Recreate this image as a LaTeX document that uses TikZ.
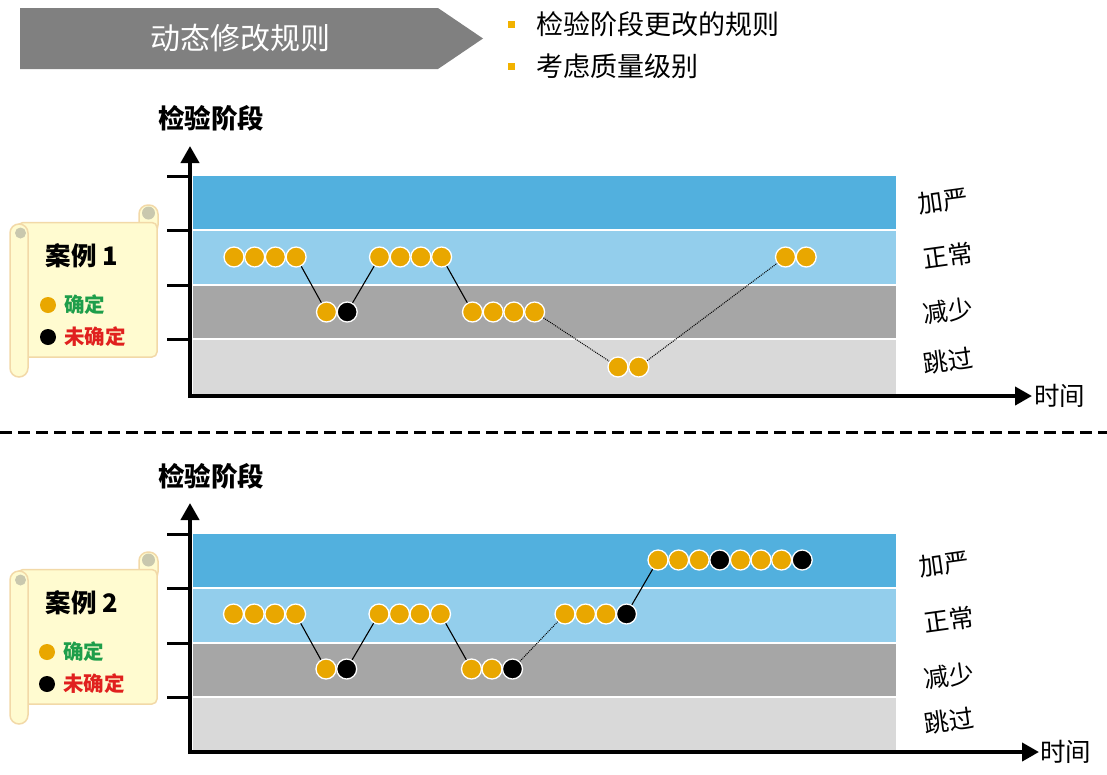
\documentclass[tikz,border=0pt]{standalone}
\usepackage{fontspec}
\setmainfont{Noto Sans CJK SC}
\usetikzlibrary{arrows.meta}
\definecolor{bandA}{HTML}{52B0DE}
\definecolor{bandB}{HTML}{93CEEC}
\definecolor{bandC}{HTML}{A6A6A6}
\definecolor{bandD}{HTML}{D9D9D9}
\definecolor{dotor}{HTML}{E9A700}
\definecolor{bannergray}{HTML}{808080}
\definecolor{bulletor}{HTML}{F2B200}
\definecolor{scrollfill}{HTML}{FFFBD0}
\definecolor{scrollline}{HTML}{F2D9A8}
\definecolor{curlcol}{HTML}{C9C8AE}
\definecolor{okgreen}{HTML}{1E9E4A}
\definecolor{nored}{HTML}{E0201E}
\begin{document}
\begin{tikzpicture}[x=1pt,y=-1pt,
  dot/.style={circle, fill=dotor, draw=white, line width=1.3pt, minimum size=20pt, inner sep=0pt},
  bdot/.style={dot, fill=black},
  link/.style={line width=1.1pt},
  dlink/.style={line width=1pt, densely dotted},
  axisline/.style={line width=4pt, -{Triangle[width=18pt,length=17pt]}},
  tickline/.style={line width=3pt},
  lvl/.style={font=\fontsize{25}{26}\selectfont, rotate=8, inner sep=0pt},
  axlabel/.style={font=\bfseries\fontsize{26.5}{28}\selectfont, inner sep=0pt},
  timelabel/.style={font=\fontsize{25.5}{28}\selectfont, anchor=west, inner sep=0pt},
  bullettext/.style={anchor=west, inner sep=0pt, font=\fontsize{27}{28}\selectfont},
  scrollpart/.style={fill=scrollfill, draw=scrollline, line width=1.5pt},
  legdot/.style={circle, fill=dotor, minimum size=16pt, inner sep=0pt},
  legbdot/.style={legdot, fill=black},
  casetext/.style={font=\bfseries\fontsize{25.5}{27}\selectfont, inner sep=0pt},
  oktext/.style={font=\bfseries\fontsize{20.5}{22}\selectfont, text=okgreen, anchor=west, inner sep=0pt},
  notext/.style={font=\bfseries\fontsize{20.5}{22}\selectfont, text=nored, anchor=west, inner sep=0pt}
]
\useasboundingbox (0,0) rectangle (1107,774);

% ---------- banner ----------
\fill[bannergray] (20,8) -- (438,8) -- (483,38.5) -- (438,69) -- (20,69) -- cycle;
\node[text=white, font=\fontsize{30}{32}\selectfont] (banner) at (240,38.5) {动态修改规则};
\fill[bulletor] (507.5,20.5) rectangle (514.5,27.5);
\fill[bulletor] (507.5,62.5) rectangle (514.5,69.5);
\node[bullettext] (b1) at (536,24) {检验阶段更改的规则};
\node[bullettext] (b2) at (536,66) {考虑质量级别};

% ---------- chart 1 ----------
\fill[bandA] (193,176) rectangle (896,228.5);
\fill[bandB] (193,230.5) rectangle (896,283.5);
\fill[bandC] (193,285.5) rectangle (896,337.5);
\fill[bandD] (193,339.5) rectangle (896,394);
\coordinate (ytop1) at (190,146);
\coordinate (xend1) at (1032,396);
\draw[axisline] (190,398) -- (ytop1);
\draw[axisline] (188,396) -- (xend1);
\foreach \y/\n in {176/1,230/2,285/3,339/4} {
  \coordinate (t1s\n) at (167,\y);
  \coordinate (t1e\n) at (190,\y);
  \draw[tickline] (t1s\n) -- (t1e\n);
}
\node[axlabel] (ylab1) at (211,118) {检验阶段};
\node[timelabel] (xlab1) at (1034,396) {时间};
\node[lvl] (l1a) at (943,201) {加严};
\node[lvl] (l1b) at (948,256) {正常};
\node[lvl] (l1c) at (948,311) {减少};
\node[lvl] (l1d) at (948,361) {跳过};

\foreach \x [count=\i] in {234,254.7,275.4,296.1} \node[dot] (c1a\i) at (\x,257) {};
\node[dot] (c1b1) at (326.5,312) {};
\node[bdot] (c1b2) at (347.2,312) {};
\foreach \x [count=\i] in {379.5,400.2,420.9,441.6} \node[dot] (c1c\i) at (\x,257) {};
\foreach \x [count=\i] in {472.5,493.2,513.9,534.6} \node[dot] (c1d\i) at (\x,312) {};
\foreach \x [count=\i] in {618,638.7} \node[dot] (c1e\i) at (\x,367) {};
\foreach \x [count=\i] in {785.5,806.2} \node[dot] (c1f\i) at (\x,257) {};
\draw[link] (c1a4) -- (c1b1);
\draw[link] (c1b2) -- (c1c1);
\draw[link] (c1c4) -- (c1d1);
\draw[dlink] (c1d4) -- (c1e1);
\draw[dlink] (c1e2) -- (c1f1);

% ---------- scroll 1 ----------
\begin{scope}
\filldraw[scrollpart, rounded corners=9pt] (139,205) rectangle (158,234);
\filldraw[scrollpart, rounded corners=5pt] (18,222.5) rectangle (157,357);
\filldraw[scrollpart, rounded corners=9pt] (10,224) rectangle (28,377);
\fill[curlcol] (148.5,213) circle (6.5);
\fill[curlcol] (20.5,233) circle (5.5);
\end{scope}
\node[casetext] (case1) at (82,256) {案例 1};
\node[legdot] (ld1) at (48,305) {};
\node[oktext] (ok1) at (64,305) {确定};
\node[legbdot] (lb1) at (48,337) {};
\node[notext] (no1) at (64,337) {未确定};

% ---------- separator ----------
\coordinate (sepL) at (0,432);
\coordinate (sepR) at (1107,432);
\draw[line width=3pt, dash pattern=on 12pt off 6pt] (sepL) -- (sepR);

% ---------- chart 2 ----------
\fill[bandA] (193,534) rectangle (896,586.5);
\fill[bandB] (193,588.5) rectangle (896,641.5);
\fill[bandC] (193,643.5) rectangle (896,695.5);
\fill[bandD] (193,697.5) rectangle (896,750);
\coordinate (ytop2) at (190,503);
\coordinate (xend2) at (1039,752);
\draw[axisline] (190,754) -- (ytop2);
\draw[axisline] (188,752) -- (xend2);
\foreach \y/\n in {534/1,588/2,643/3,697/4} {
  \coordinate (t2s\n) at (167,\y);
  \coordinate (t2e\n) at (190,\y);
  \draw[tickline] (t2s\n) -- (t2e\n);
}
\node[axlabel] (ylab2) at (211,476) {检验阶段};
\node[timelabel] (xlab2) at (1040,752) {时间};
\node[lvl] (l2a) at (944,564) {加严};
\node[lvl] (l2b) at (949,620) {正常};
\node[lvl] (l2c) at (949,676) {减少};
\node[lvl] (l2d) at (949,721) {跳过};

\foreach \x [count=\i] in {233.5,254.2,274.9,295.6} \node[dot] (c2a\i) at (\x,614) {};
\node[dot] (c2b1) at (326,669) {};
\node[bdot] (c2b2) at (346.7,669) {};
\foreach \x [count=\i] in {379,399.5,420,440.5} \node[dot] (c2c\i) at (\x,614) {};
\node[dot] (c2d1) at (471.5,669) {};
\node[dot] (c2d2) at (492,669) {};
\node[bdot] (c2d3) at (512.5,669) {};
\node[dot] (c2e1) at (565,614) {};
\node[dot] (c2e2) at (585.5,614) {};
\node[dot] (c2e3) at (606,614) {};
\node[bdot] (c2e4) at (626.5,614) {};
\node[dot] (c2f1) at (658,560) {};
\node[dot] (c2f2) at (678.6,560) {};
\node[dot] (c2f3) at (699.2,560) {};
\node[bdot] (c2f4) at (719.8,560) {};
\node[dot] (c2f5) at (740.4,560) {};
\node[dot] (c2f6) at (761,560) {};
\node[dot] (c2f7) at (781.6,560) {};
\node[bdot] (c2f8) at (802.2,560) {};
\draw[link] (c2a4) -- (c2b1);
\draw[link] (c2b2) -- (c2c1);
\draw[link] (c2c4) -- (c2d1);
\draw[dlink] (c2d3) -- (c2e1);
\draw[link] (c2e4) -- (c2f1);

% ---------- scroll 2 ----------
\begin{scope}[yshift=-347pt]
\filldraw[scrollpart, rounded corners=9pt] (139,205) rectangle (158,234);
\filldraw[scrollpart, rounded corners=5pt] (18,222.5) rectangle (157,357);
\filldraw[scrollpart, rounded corners=9pt] (10,224) rectangle (28,377);
\fill[curlcol] (148.5,213) circle (6.5);
\fill[curlcol] (20.5,233) circle (5.5);
\end{scope}
\node[casetext] (case2) at (82,603) {案例 2};
\node[legdot] (ld2) at (47,652) {};
\node[oktext] (ok2) at (63,652) {确定};
\node[legbdot] (lb2) at (47,684) {};
\node[notext] (no2) at (63,684) {未确定};
\end{tikzpicture}
\end{document}
